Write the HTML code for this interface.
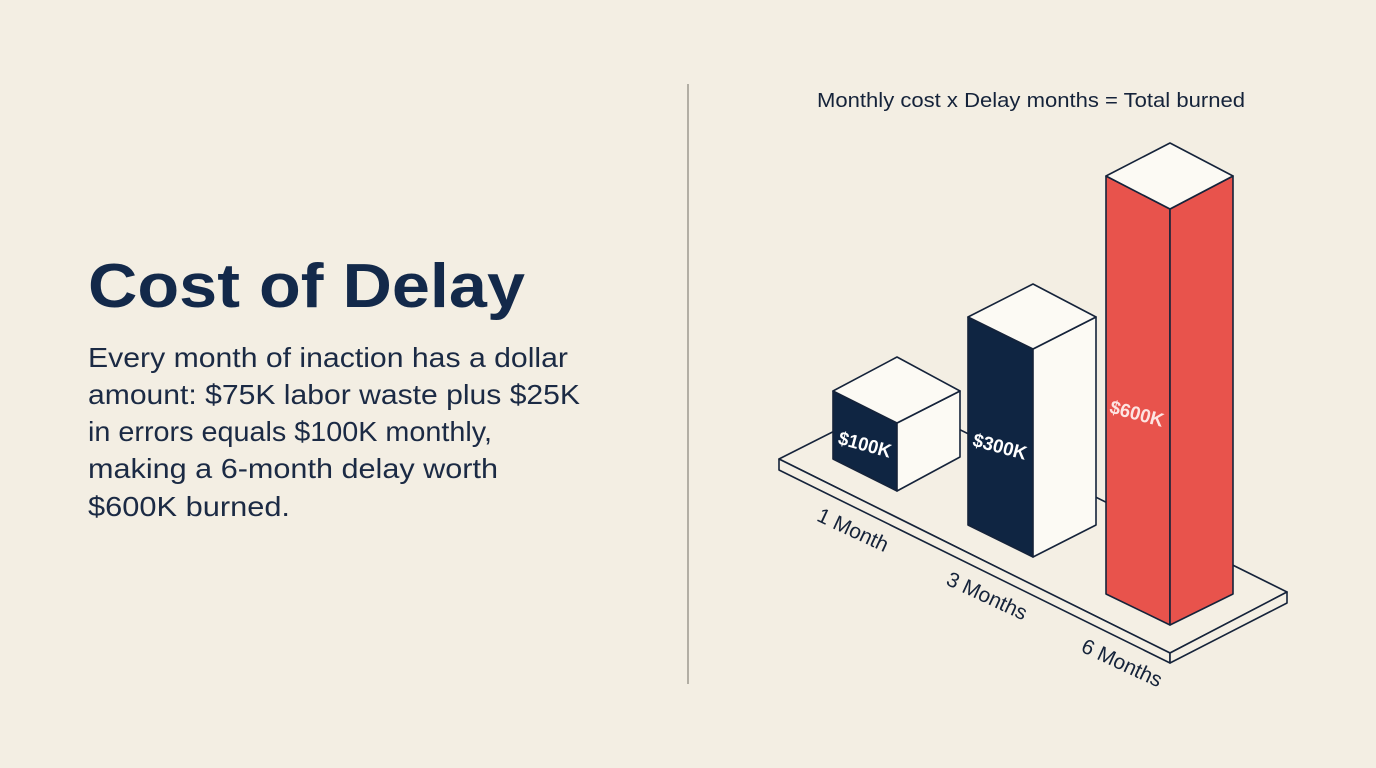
<!DOCTYPE html>
<html><head><meta charset="utf-8"><style>
html,body{margin:0;padding:0;background:#f3eee3;}
svg{display:block;}
</style></head><body>
<svg width="1376" height="768" viewBox="0 0 1376 768" xmlns="http://www.w3.org/2000/svg" font-family="Liberation Sans, sans-serif">
<rect width="1376" height="768" fill="#f3eee3"/>
<text x="88" y="307" font-size="62" font-weight="bold" fill="#13294a" textLength="437" lengthAdjust="spacingAndGlyphs">Cost of Delay</text>
<g font-size="28" fill="#1b2a44">
<text x="88" y="367" textLength="480" lengthAdjust="spacingAndGlyphs">Every month of inaction has a dollar</text>
<text x="88" y="404" textLength="492" lengthAdjust="spacingAndGlyphs">amount: $75K labor waste plus $25K</text>
<text x="88" y="441" textLength="404" lengthAdjust="spacingAndGlyphs">in errors equals $100K monthly,</text>
<text x="88" y="478" textLength="410" lengthAdjust="spacingAndGlyphs">making a 6-month delay worth</text>
<text x="88" y="516" textLength="202" lengthAdjust="spacingAndGlyphs">$600K burned.</text>
</g>
<line x1="688" y1="84" x2="688" y2="684" stroke="#9d988f" stroke-width="1.5"/>
<text x="817" y="107" font-size="20" fill="#15233a" textLength="428" lengthAdjust="spacingAndGlyphs">Monthly cost x Delay months = Total burned</text>

<g stroke="#15233a" stroke-width="1.6" stroke-linejoin="round">
<polygon points="779,459 898,399 1287,592 1170,653" fill="#f4efe4"/>
<polygon points="779,459 1170,653 1170,663 779,470" fill="#f4efe4"/>
<polygon points="1170,653 1287,592 1287,603 1170,663" fill="#f4efe4"/>
<polygon points="833,391 897,423 897,491 833,459" fill="#0f2542"/>
<polygon points="897,423 960,391 960,457 897,491" fill="#fcfaf4"/>
<polygon points="897,357 960,391 897,423 833,391" fill="#fcfaf4"/>
<polygon points="968,317 1033,349 1033,557 968,525" fill="#0f2542"/>
<polygon points="1033,349 1096,317 1096,525 1033,557" fill="#fcfaf4"/>
<polygon points="1033,284 1096,317 1033,349 968,317" fill="#fcfaf4"/>
<polygon points="1106,176 1170,209 1170,625 1106,594" fill="#e8534c"/>
<polygon points="1170,209 1233,176 1233,594 1170,625" fill="#e8534c"/>
<polygon points="1170,143 1233,176 1170,209 1106,176" fill="#fcfaf4"/>
</g>
<g font-weight="bold" font-size="19">
<text x="865" y="451" fill="#ffffff" text-anchor="middle" transform="rotate(15 865 444)" textLength="54" lengthAdjust="spacingAndGlyphs">$100K</text>
<text x="1000" y="453" fill="#ffffff" text-anchor="middle" transform="rotate(15 1000 446)" textLength="55" lengthAdjust="spacingAndGlyphs">$300K</text>
<text x="1137" y="420" fill="#fde5e2" text-anchor="middle" transform="rotate(15 1137 413)" textLength="55" lengthAdjust="spacingAndGlyphs">$600K</text>
</g>
<g font-size="21" fill="#15233a">
<text x="853" y="537" text-anchor="middle" transform="rotate(25 853 530)">1 Month</text>
<text x="987" y="603" text-anchor="middle" transform="rotate(25 987 596)">3 Months</text>
<text x="1122" y="670" text-anchor="middle" transform="rotate(25 1122 663)">6 Months</text>
</g>
</svg>
</body></html>
